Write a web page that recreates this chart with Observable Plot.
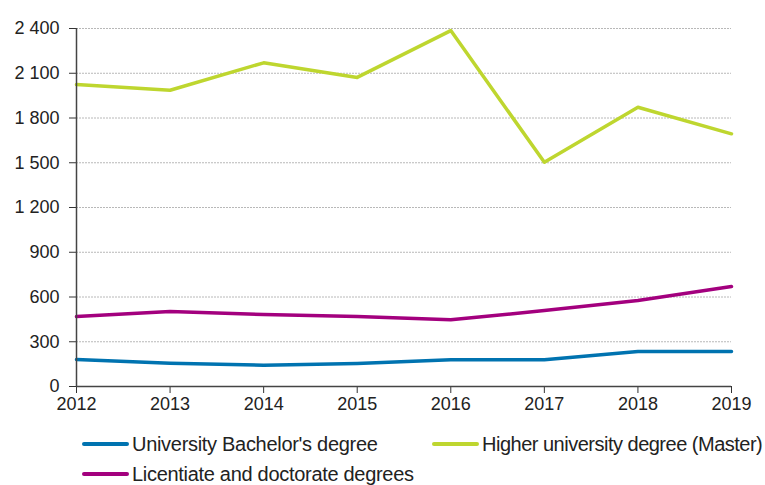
<!DOCTYPE html>
<html>
<head>
<meta charset="utf-8">
<script src="https://cdn.jsdelivr.net/npm/d3@7"></script>
<script src="https://cdn.jsdelivr.net/npm/@observablehq/plot@0.6"></script>
<style>
  body { margin: 0; background: #fff; font-family: "Liberation Sans", Arial, sans-serif; }
  #chart { position: relative; width: 765px; height: 485px; overflow: hidden; }
  .legend { position: absolute; left: 0; top: 0; width: 765px; }
  .item { position: absolute; display: flex; align-items: center; font-size: 20px; line-height: 22px; color: #222; letter-spacing: -0.3px; white-space: nowrap; }
  .sw { width: 47px; height: 4px; border-radius: 2px; margin-right: 3px; }
</style>
</head>
<body>
<div id="chart"></div>
<script>
const years = [2012, 2013, 2014, 2015, 2016, 2017, 2018, 2019];
const seriesNames = ["University Bachelor's degree", "Higher university degree (Master)", "Licentiate and doctorate degrees"];
const bachelor = [181, 156, 143, 155, 179, 179, 234, 234];
const master = [2024, 1986, 2170, 2072, 2386, 1503, 1872, 1694];
const licentiate = [469, 503, 483, 469, 447, 509, 576, 670];
const colors = ["#0073B0", "#BED62F", "#A3007E"];
const yTicks = [0, 300, 600, 900, 1200, 1500, 1800, 2100, 2400];

const valuesBySeries = [bachelor, master, licentiate];
const data = [];
seriesNames.forEach((s, i) => years.forEach((y, j) => data.push({series: s, year: y, value: valuesBySeries[i][j]})));

const fmt = d => d3.format(",")(d).replace(/,/g, " ");

const plot = Plot.plot({
  width: 765,
  height: 420,
  marginLeft: 76,
  marginRight: 34,
  marginTop: 28,
  marginBottom: 34,
  style: { fontFamily: "Liberation Sans, Arial, sans-serif", fontSize: "18px", color: "#222", background: "#fff" },
  x: { domain: [2012, 2019], label: null },
  y: { domain: [0, 2400], label: null },
  color: { domain: seriesNames, range: colors },
  marks: [
    Plot.gridY(yTicks.filter(d => d > 0), { stroke: "#b8b8b8", strokeOpacity: 1, strokeWidth: 1, strokeDasharray: "2,1" }),
    Plot.line(data, { x: "year", y: "value", z: "series", stroke: "series", strokeWidth: 3.5, strokeLinejoin: "round" }),
    Plot.axisX({ ticks: years, tickFormat: d => String(d), tickSize: 7, tickPadding: 4, stroke: "#333", fill: "#222" }),
    Plot.axisY({ ticks: yTicks, tickFormat: fmt, tickSize: 7, tickPadding: 10, stroke: "#333", fill: "#222" }),
    Plot.ruleX([2012], { stroke: "#444", strokeWidth: 1.5 }),
    Plot.ruleY([0], { stroke: "#444", strokeWidth: 1.5 })
  ]
});
const chart = document.getElementById("chart");
chart.appendChild(plot);

const legend = document.createElement("div");
legend.className = "legend";
const pos = [[82, 444], [432, 444], [82, 474]];
const spacing = ["-0.3px", "-0.5px", "-0.3px"];
seriesNames.forEach((s, i) => {
  const it = document.createElement("div");
  it.className = "item";
  it.style.left = pos[i][0] + "px";
  it.style.top = (pos[i][1] - 11) + "px";
  it.style.letterSpacing = spacing[i];
  const sw = document.createElement("span");
  sw.className = "sw";
  sw.style.background = colors[i];
  const t = document.createElement("span");
  t.textContent = s;
  it.appendChild(sw); it.appendChild(t);
  legend.appendChild(it);
});
chart.appendChild(legend);
</script>
</body>
</html>
